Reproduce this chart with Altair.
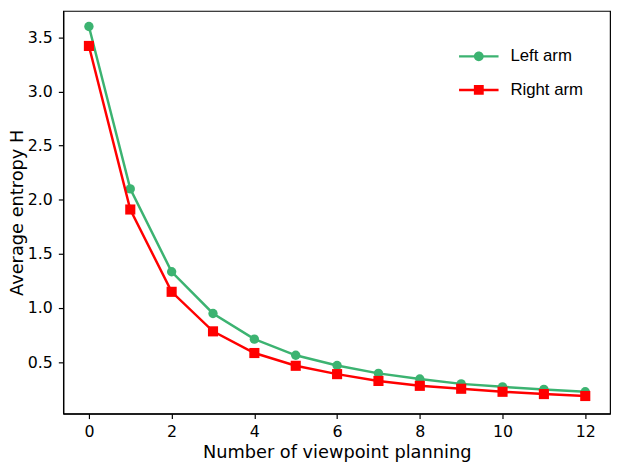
import altair as alt
import pandas as pd

steps = list(range(13))
left_arm = [3.60, 2.10, 1.335, 0.95, 0.713, 0.564, 0.47, 0.397, 0.345, 0.30, 0.273, 0.249, 0.227]
right_arm = [3.42, 1.91, 1.15, 0.785, 0.585, 0.467, 0.39, 0.327, 0.282, 0.255, 0.227, 0.206, 0.188]
series_names = ["Left arm", "Right arm"]
series_colors = ["#3cb371", "#ff0000"]
series_shapes = ["circle", "square"]
x_ticks = [0, 2, 4, 6, 8, 10, 12]
y_ticks = [0.5, 1.0, 1.5, 2.0, 2.5, 3.0, 3.5]

rows = []
for s, vals in zip(series_names, [left_arm, right_arm]):
    for x, v in zip(steps, vals):
        rows.append({"step": x, "H": v, "arm": s})
df = pd.DataFrame(rows)

x_enc = alt.X("step:Q", scale=alt.Scale(domain=[-0.62, 12.6], nice=False, zero=False),
              axis=alt.Axis(values=x_ticks, title="Number of viewpoint planning"))
y_enc = alt.Y("H:Q", scale=alt.Scale(domain=[0.025, 3.743], nice=False, zero=False),
              axis=alt.Axis(values=y_ticks, format=".1f", title="Average entropy H"))

base = alt.Chart(df)

layers = []
for name, col, shp in zip(series_names, series_colors, series_shapes):
    sub = base.transform_filter(alt.datum.arm == name)
    layers.append(sub.mark_line(color=col, strokeWidth=2.5).encode(
        x=x_enc, y=y_enc, order=alt.Order("step:Q")))
    layers.append(sub.mark_point(filled=True, opacity=1, size=90 if shp == "circle" else 105,
                                 shape=shp, color=col).encode(x=x_enc, y=y_enc))

# legend symbols: filled bar (line) + marker, unit coords scaled by sqrt(size)/2
legend_paths = [
    "M-2,-0.125H2V0.125H-2Z M0.5,0A0.5,0.5 0 1 1 -0.5,0A0.5,0.5 0 1 1 0.5,0Z",
    "M-2,-0.125H2V0.125H-2Z M-0.5,-0.5H0.5V0.5H-0.5Z",
]

leg = alt.Legend(title=None, orient="none", legendX=411, legendY=36,
                 symbolSize=400, symbolStrokeWidth=0, symbolOpacity=1,
                 labelOffset=22, rowPadding=16,
                 labelFont="Liberation Sans", labelFontSize=17, labelColor="black")

legend_layer = base.mark_point(filled=True, size=400, opacity=0).encode(
    x=x_enc, y=y_enc,
    color=alt.Color("arm:N", scale=alt.Scale(domain=series_names, range=series_colors), legend=leg),
    shape=alt.Shape("arm:N", scale=alt.Scale(domain=series_names, range=legend_paths), legend=leg),
)

chart = alt.layer(*layers, legend_layer).properties(
    width=554, height=408,
    autosize=alt.AutoSizeParams(type="none"),
    padding={"left": 56, "top": 0, "right": 6, "bottom": 49},
).configure_view(
    stroke="black", strokeWidth=1.2
).configure_axis(
    grid=False, domainColor="black", domainWidth=1.2, tickColor="black", tickWidth=1.2,
    tickSize=5, labelFont="DejaVu Sans", labelFontSize=16, labelColor="black",
    labelPadding=6, titleFont="DejaVu Sans", titleFontSize=18, titleFontWeight="normal",
    titleColor="black",
).configure_axisX(titlePadding=4, labelPadding=5).configure_axisY(titlePadding=1)

chart.save("out.html", embed_options={"renderer": "svg", "actions": False})
